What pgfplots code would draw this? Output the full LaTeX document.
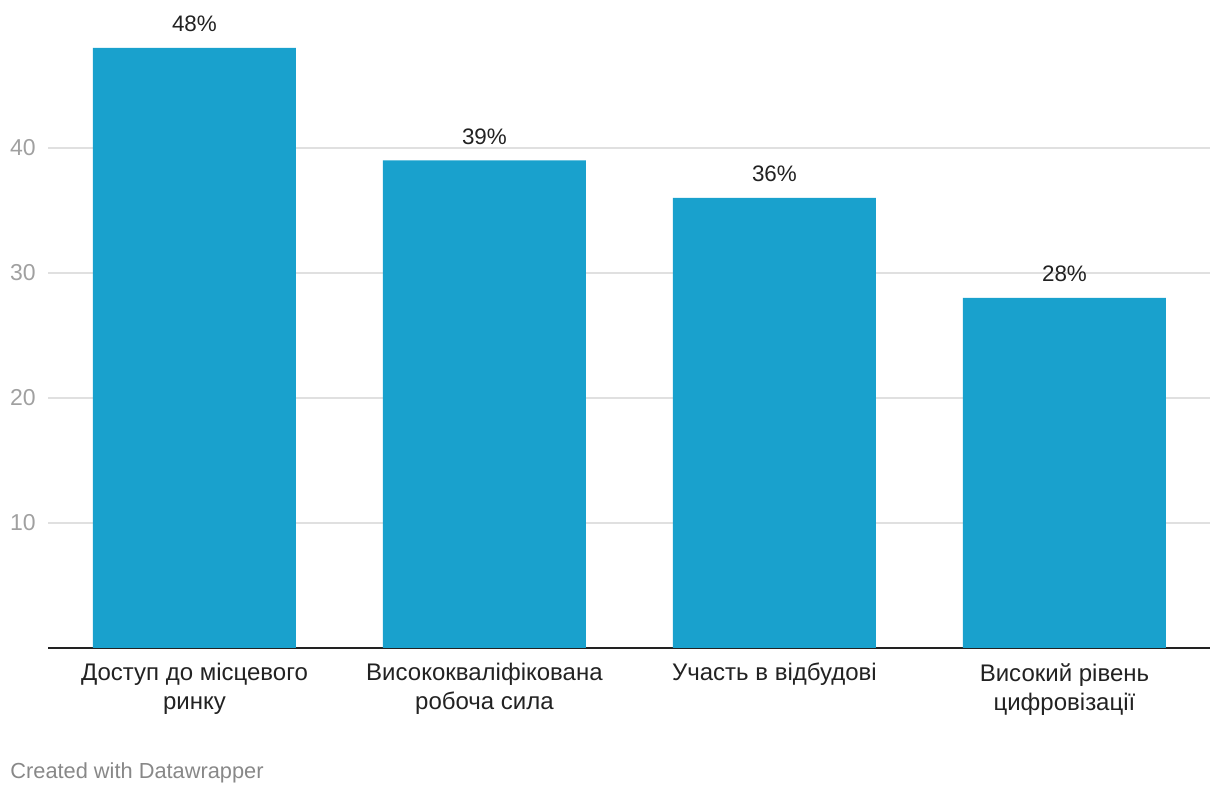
\documentclass[border=0pt]{standalone}
\usepackage{pgfplots}
\pgfplotsset{compat=1.18}
\usepackage{fontspec}
\setmainfont{Liberation Sans}
\definecolor{barblue}{RGB}{25,161,205}
\definecolor{tickgrey}{RGB}{160,160,160}
\definecolor{gridgrey}{RGB}{224,224,224}
\definecolor{txt}{RGB}{34,34,34}
\definecolor{credit}{RGB}{136,136,136}
\begin{document}
\begin{tikzpicture}
\useasboundingbox (0,0) rectangle (610pt,398pt);
\begin{axis}[
  at={(24pt,74pt)}, anchor=south west,
  x=145pt, y=6.25pt,
  xmin=-0.505, xmax=3.502, ymin=0, ymax=51.84,
  clip=false,
  axis line style={draw=none},
  major tick length=0pt,
  ytick={10,20,30,40},
  ymajorgrids=true,
  major grid style={gridgrey, line width=0.6pt},
  extra y ticks={0},
  extra y tick labels={},
  extra y tick style={grid=major, major grid style={txt, line width=1pt}},
  /pgf/number format/assume math mode=true,
  yticklabel style={anchor=east, inner sep=0pt, xshift=-6pt, text=tickgrey, font=\fontsize{11.5}{13}\selectfont},
  xtick={0,1,2,3},
  xticklabels={{Доступ до місцевого\\ринку},{Висококваліфікована\\робоча сила},{Участь в відбудові},{Високий рівень\\цифровізації}},
  xticklabel style={align=center, anchor=north, inner sep=0pt, yshift=-7.5pt, text=txt, font=\fontsize{12}{14.6}\selectfont},
  ybar, bar width=101.5pt,
  nodes near coords={\pgfmathprintnumber{\pgfplotspointmeta}\%},
  every node near coord/.append style={anchor=base, inner sep=0pt, yshift=8pt, text=txt, font=\fontsize{11.2}{13}\selectfont},
]
\addplot[fill=barblue, draw=none] coordinates {(0,48) (1,39) (2,36) (3,28)};
\end{axis}
\node[anchor=base west, inner sep=0pt, text=credit, font=\fontsize{10.9}{12}\selectfont] at (5pt,8.5pt) {Created with Datawrapper};
\end{tikzpicture}
\end{document}
